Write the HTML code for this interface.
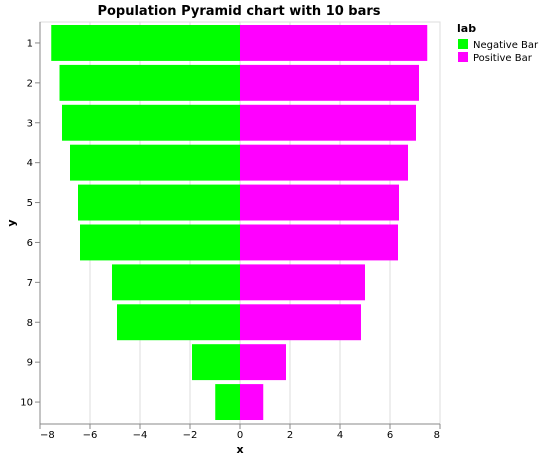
<!DOCTYPE html>
<html><head><meta charset="utf-8"><style>
body{margin:0;background:#fff;font-family:"Liberation Sans","DejaVu Sans",sans-serif;}
svg text{font-family:"DejaVu Sans","Liberation Sans",sans-serif;}
</style></head><body>
<svg id="c" width="542" height="459" xmlns="http://www.w3.org/2000/svg">
<text x="239" y="15" text-anchor="middle" font-size="13" font-weight="bold" fill="#000">Population Pyramid chart with 10 bars</text>
<g id="grid"></g><g id="bars"></g><g id="axes"></g>
<text x="240" y="453" text-anchor="middle" font-size="11" font-weight="bold">x</text>
<text transform="translate(15,223) rotate(-90)" text-anchor="middle" font-size="11" font-weight="bold">y</text>
<g>
<text x="457" y="32" font-size="11" font-weight="bold">lab</text>
<rect x="458" y="39" width="10" height="10" fill="#00ff00"/>
<text x="473" y="48" font-size="10">Negative Bar</text>
<rect x="458" y="52" width="10" height="10" fill="#ff00ff"/>
<text x="473" y="61" font-size="10">Positive Bar</text>
</g>
</svg>
<script>
const categories=["1","2","3","4","5","6","7","8","9","10"];
const negValues=[-7.55,-7.22,-7.12,-6.8,-6.48,-6.4,-5.12,-4.92,-1.92,-0.99];
const posValues=[7.49,7.16,7.04,6.72,6.36,6.32,5.0,4.84,1.84,0.93];
const xTicks=[-8,-6,-4,-2,0,2,4,6,8];
const NS="http://www.w3.org/2000/svg";
const L=40,R=440,T=22,B=424,BT=23,BB=422;
const xs=v=>L+(v+8)/16*(R-L);
const bw=(BB-BT)/categories.length;
const yb=i=>BT+i*bw;
function mk(t,a,p){const e=document.createElementNS(NS,t);for(const k in a)e.setAttribute(k,a[k]);p.appendChild(e);return e;}
const grid=document.getElementById('grid'),bars=document.getElementById('bars'),axes=document.getElementById('axes');
mk('rect',{x:L,y:T,width:R-L,height:B-T,fill:'none',stroke:'#ddd'},grid);
xTicks.forEach((t,k)=>{const g=mk('line',{x1:xs(t),x2:xs(t),y1:T,y2:B,stroke:'#ddd'},grid);


const tk=mk('line',{x1:xs(t),x2:xs(t),y1:B,y2:B+5,stroke:'#888'},axes);


const anchor=k===0?'start':(k===xTicks.length-1?'end':'middle');
const tx=mk('text',{x:xs(t),y:B+14,'text-anchor':anchor,'font-size':10,fill:'#000'},axes);
tx.textContent=(t<0?'\u2212':'')+Math.abs(t);

});
categories.forEach((c,i)=>{const y0=yb(i)+2,hh=bw*0.9;
const n=mk('rect',{x:xs(negValues[i]),y:y0,width:xs(0)-xs(negValues[i]),height:hh,fill:'#00ff00'},bars);


const p=mk('rect',{x:xs(0),y:y0,width:xs(posValues[i])-xs(0),height:hh,fill:'#ff00ff'},bars);


const yc=y0+hh/2;
const tk=mk('line',{x1:L-5,x2:L,y1:yc,y2:yc,stroke:'#888'},axes);


const tx=mk('text',{x:L-7,y:yc+3.5,'text-anchor':'end','font-size':10,fill:'#000'},axes);
tx.textContent=c;

});
const xa=mk('line',{x1:L,x2:R,y1:B,y2:B,stroke:'#888'},axes);


const ya=mk('line',{x1:L,x2:L,y1:T,y2:B,stroke:'#888'},axes);


</script>
</body></html>
